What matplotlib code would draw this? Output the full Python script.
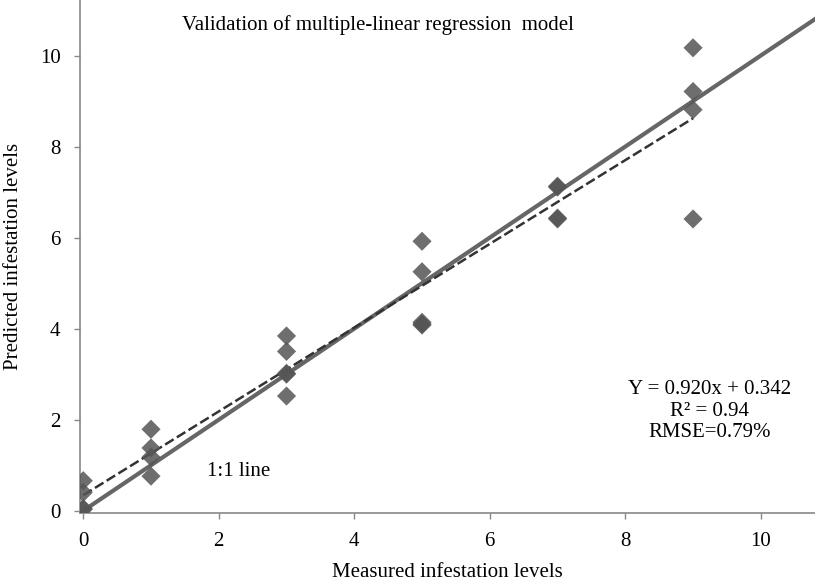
import matplotlib
matplotlib.use('Agg')
import numpy as np
import matplotlib.pyplot as plt

# measured vs predicted infestation levels
medido = [0, 0, 0, 0, 1, 1, 1, 1, 3, 3, 3, 3, 3, 5, 5, 5, 5, 5, 7, 7, 7, 7, 9, 9, 9, 9]
predicho = [0.66, 0.40, 0.05, 0.03, 1.79, 1.38, 1.18, 0.76, 3.84, 3.50, 3.02, 3.00, 2.52,
            5.92, 5.25, 4.14, 4.10, 4.08, 7.13, 7.11, 6.43, 6.41, 10.17, 9.21, 8.81, 6.41]

pendiente = 0.920
intercepto = 0.342
x_ticks = [0, 2, 4, 6, 8, 10]
y_ticks = [0, 2, 4, 6, 8, 10]

plt.rcParams['font.family'] = ['Liberation Serif', 'DejaVu Serif']

fig = plt.figure(figsize=(8.15, 5.81), dpi=100)
ax = fig.add_axes([0.098, 0.117, 0.902, 0.883])

# linea 1:1
xl = np.array([0, 11.5])
ax.plot(xl, xl, color='#666666', lw=3.0, zorder=2, solid_capstyle='butt')

# recta de regresion
xr = np.array([min(medido), max(medido)])
ax.plot(xr, pendiente * xr + intercepto, color='#333333', lw=1.8, ls=(0, (4, 1.5)), zorder=3)

ax.scatter(medido, predicho, marker='D', s=95, color='#555555', alpha=0.85,
           edgecolors='none', zorder=4)

ax.set_xlim(-0.05, 10.8)
ax.set_ylim(-0.05, 11.22)
ax.set_xticks(x_ticks)
ax.set_yticks(y_ticks)
ax.tick_params(labelsize=15, color='#888888', length=4, width=1)
ax.tick_params(axis='x', pad=10)
ax.tick_params(axis='y', pad=10)

for s in ['top', 'right']:
    ax.spines[s].set_visible(False)
for s in ['left', 'bottom']:
    ax.spines[s].set_color('#888888')
    ax.spines[s].set_linewidth(1.2)

ax.set_xlabel('Measured infestation levels', fontsize=15, labelpad=8)
ax.set_ylabel('Predicted infestation levels', fontsize=15, labelpad=12)

ax.text(4.35, 10.68, 'Validation of multiple-linear regression  model', fontsize=15,
        ha='center', va='center')
ax.text(2.3, 0.87, '1:1 line', fontsize=15, ha='center', va='center')
ax.text(9.25, 2.19, 'Y = 0.920x + 0.342\nR² = 0.94\nRMSE=0.79%', fontsize=15,
        ha='center', va='center', linespacing=1.2)

plt.savefig('out.png', dpi=100)
